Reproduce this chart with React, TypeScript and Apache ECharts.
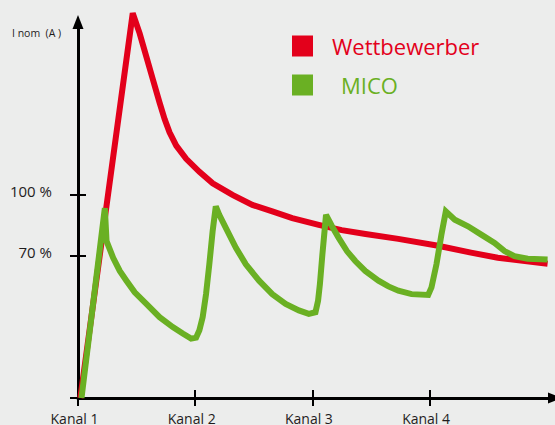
import React, { useEffect, useRef } from "react";
import * as echarts from "echarts";

const channelTicks = [0, 1, 2, 3];
const channelLabels = ["Kanal 1", "Kanal 2", "Kanal 3", "Kanal 4"];
const percentTicks = [0, 70, 100];
const percentLabels = [70, 100];

const seriesNames = ["Wettbewerber", "MICO"];

const wettbewerber: number[][] = [
  [0.02, 0], [0.467, 189.3], [0.526, 179.4], [0.583, 168.0], [0.639, 156.7],
  [0.696, 145.3], [0.739, 137.2], [0.781, 130.7], [0.838, 124.2], [0.923, 117.7],
  [1.036, 111.3], [1.149, 105.6], [1.318, 99.9], [1.488, 95.0], [1.658, 91.8],
  [1.828, 88.5], [2.054, 85.2], [2.25, 82.6], [2.453, 80.7], [2.733, 78.3],
  [3.073, 74.9], [3.353, 71.5], [3.582, 69.0], [4.007, 66.1],
];

const mico: number[][] = [
  [0.03, 0], [0.229, 93.4], [0.2436, 77.2], [0.2997, 69.0], [0.3565, 62.5],
  [0.4134, 57.7], [0.4839, 52.0], [0.5832, 46.3], [0.6961, 39.8], [0.809, 34.9],
  [0.8939, 31.7], [0.9652, 29.2], [1.0076, 29.7], [1.0357, 33.3], [1.0637, 39.8],
  [1.0925, 51.1], [1.1205, 65.8], [1.1486, 82.0], [1.1757, 94.3], [1.2054, 90.1],
  [1.2623, 83.6], [1.3472, 73.9], [1.4321, 65.8], [1.545, 57.7], [1.6579, 51.1],
  [1.7716, 46.3], [1.8846, 43.1], [1.9695, 41.4], [2.0263, 42.2], [2.0484, 47.9],
  [2.064, 56.0], [2.085, 70.5], [2.1163, 90.1], [2.1672, 84.5], [2.2241, 78.8],
  [2.2946, 72.3], [2.3659, 67.4], [2.4508, 62.5], [2.5637, 57.7], [2.6486, 54.9],
  [2.7334, 52.8], [2.8464, 51.1], [2.9881, 50.7], [3.0161, 54.4], [3.0586, 65.8],
  [3.101, 80.4], [3.1384, 91.8], [3.2148, 87.7], [3.3277, 84.5], [3.4406, 80.4],
  [3.5543, 76.3], [3.6392, 72.3], [3.7241, 69.8], [3.837, 68.5], [4.0068, 68.2],
];

const RED = "#e3001b";
const GREEN = "#6ab023";
const INK = "#1f1c1d";
const FONT = "Open Sans";

export default function App() {
  const ref = useRef<HTMLDivElement>(null);
  useEffect(() => {
    if (!ref.current) return;
    const chart = echarts.init(ref.current, undefined, { renderer: "svg" });
    const xBase = {
      type: "value" as const,
      min: 0,
      max: 4.07,
      position: "bottom" as const,
      splitLine: { show: false },
    };
    const yBase = {
      type: "value" as const,
      min: 0,
      max: 185,
      position: "left" as const,
      splitLine: { show: false },
    };
    const tickStyle = { color: "#000", width: 2 };
    chart.setOption({
      animation: false,
      backgroundColor: "#ecedec",
      grid: { left: 78, right: -2, top: 22, bottom: 23.3, containLabel: false },
      legend: [
        {
          data: [seriesNames[0]],
          left: 292,
          top: 35,
          padding: 0,
          icon: "rect",
          itemWidth: 21,
          itemHeight: 21,
          selectedMode: false,
          textStyle: { color: RED, fontSize: 22, fontFamily: FONT, padding: [0, 0, 0, 14] },
        },
        {
          data: [seriesNames[1]],
          left: 292,
          top: 74,
          padding: 0,
          icon: "rect",
          itemWidth: 21,
          itemHeight: 21,
          selectedMode: false,
          textStyle: { color: GREEN, fontSize: 22, fontFamily: FONT, padding: [0, 0, 0, 23] },
        },
      ],
      xAxis: [
        {
          ...xBase,
          axisLine: {
            show: true,
            lineStyle: { color: "#000", width: 3 },
            symbol: ["none", "triangle"],
            symbolSize: [11, 14],
          },
          axisTick: { show: true, length: 8, customValues: channelTicks, lineStyle: tickStyle },
          axisLabel: {
            show: true,
            customValues: channelTicks,
            margin: 13,
            color: INK,
            fontSize: 14,
            fontFamily: FONT,
            padding: [0, 7, 0, 0],
            formatter: (v: number) => channelLabels[Math.round(v)] ?? "",
          },
        },
        {
          ...xBase,
          axisLine: { show: false },
          axisTick: { show: true, inside: true, length: 8, customValues: channelTicks, lineStyle: tickStyle },
          axisLabel: { show: false },
        },
      ],
      yAxis: [
        {
          ...yBase,
          axisLine: {
            show: true,
            lineStyle: { color: "#000", width: 3 },
            symbol: ["none", "triangle"],
            symbolSize: [11, 14],
          },
          axisTick: { show: true, length: 8, customValues: percentTicks, lineStyle: tickStyle },
          axisLabel: {
            show: true,
            customValues: percentLabels,
            margin: 26,
            color: INK,
            fontSize: 15,
            fontFamily: FONT,
            verticalAlign: "bottom",
            lineHeight: 8,
            formatter: (v: number) => `${v} %`,
          },
        },
        {
          ...yBase,
          axisLine: { show: false },
          axisTick: { show: true, inside: true, length: 8, customValues: percentTicks, lineStyle: tickStyle },
          axisLabel: { show: false },
        },
      ],
      graphic: [
        {
          type: "text",
          left: 12,
          top: 27,
          style: { text: "I nom  (A )", fill: INK, fontSize: 10.5, fontFamily: FONT },
        },
      ],
      series: [
        {
          name: seriesNames[0],
          type: "line",
          data: wettbewerber,
          showSymbol: false,
          clip: false,
          color: RED,
          lineStyle: { color: RED, width: 6, join: "miter", miterLimit: 3 },
        },
        {
          name: seriesNames[1],
          type: "line",
          data: mico,
          showSymbol: false,
          clip: false,
          color: GREEN,
          lineStyle: { color: GREEN, width: 6, join: "miter", miterLimit: 3 },
        },
      ],
    });
    return () => chart.dispose();
  }, []);
  return (
    <div
      ref={ref}
      style={{ position: "fixed", left: 0, top: 0, width: 555, height: 425 }}
    />
  );
}
